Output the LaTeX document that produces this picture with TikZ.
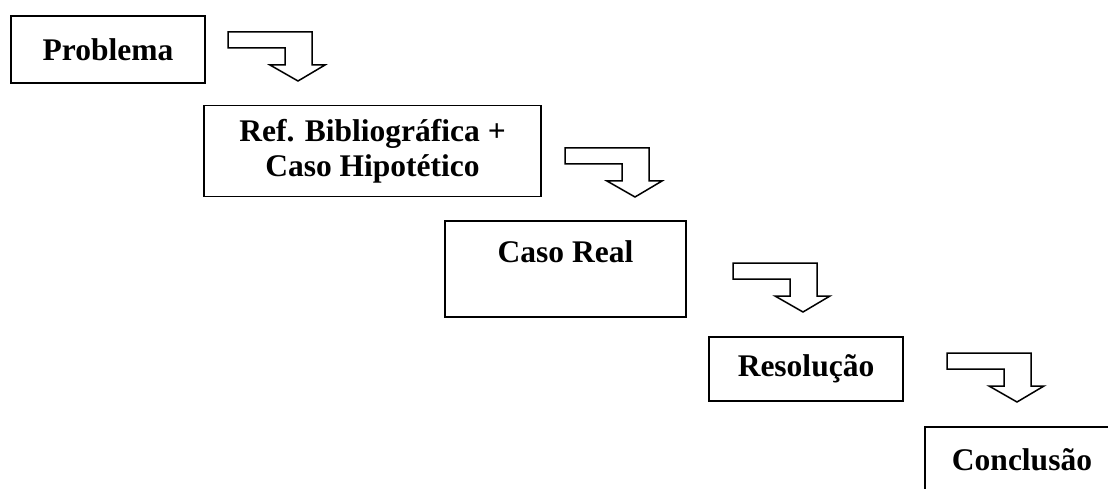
\documentclass[tikz,border=0pt]{standalone}
\usepackage{fontspec}
\setmainfont{Liberation Serif}

\begin{document}
\begin{tikzpicture}[
  x=1pt, y=-1pt,
  stage/.style={draw,line width=1.7pt,inner sep=0pt,align=center,font=\bfseries\fontsize{31.5}{35}\selectfont},
  turnarrow/.pic={\draw[line width=1.5pt] (0,0) -- (84,0) -- (84,33) -- (97,33) -- (70,49) -- (42,33) -- (57,33) -- (57,16) -- (0,16) -- cycle;}
]
  \useasboundingbox (0,0) rectangle (1108,489);
  \node[stage,minimum width=194,minimum height=67] (s0) at (108,49.5) {Problema};
  \node[stage,minimum width=337,minimum height=91] (s1) at (372.5,151) {Ref. Bibliográfica +\\Caso Hipotético};
  \node[stage,minimum width=241,minimum height=96,text depth=34pt] (s2) at (565.5,269) {Caso Real};
  \node[stage,minimum width=194,minimum height=64] (s3) at (806,369) {Resolução};
  \node[stage,minimum width=194,minimum height=66] (s4) at (1022,460) {Conclusão};
  \pic (a0) at (228,32) {turnarrow};
  \pic (a1) at (565,148) {turnarrow};
  \pic (a2) at (733,263) {turnarrow};
  \pic (a3) at (947,353) {turnarrow};
\end{tikzpicture}
\end{document}
